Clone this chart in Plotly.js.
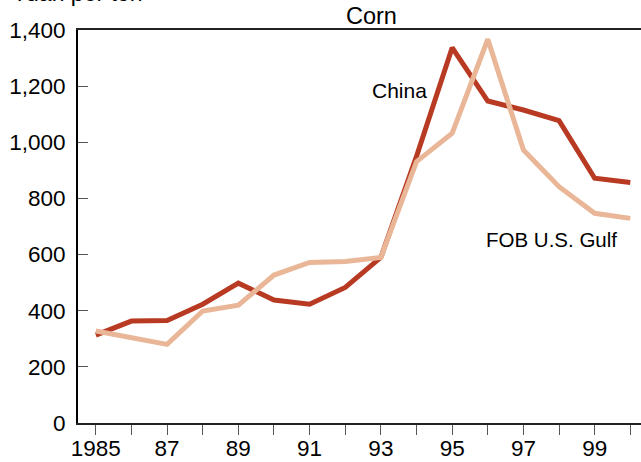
<!DOCTYPE html>
<html>
<head>
<meta charset="utf-8">
<script src="https://cdn.plot.ly/plotly-3.0.1.min.js"></script>
<style>html,body{margin:0;padding:0;background:#fff;}#chart{width:641px;height:462px;}</style>
</head>
<body>
<div id="chart"></div>
<script>
const years = [1985,1986,1987,1988,1989,1990,1991,1992,1993,1994,1995,1996,1997,1998,1999,2000];
const china = [313,363,365,423,498,438,423,483,590,950,1337,1147,1115,1077,872,857];
const fobGulf = [328,305,280,399,420,527,572,575,590,931,1032,1367,973,842,747,729];
const xTickVals = [1985,1987,1989,1991,1993,1995,1997,1999];
const xTickText = ['1985','87','89','91','93','95','97','99'];
const yTickVals = [0,200,400,600,800,1000,1200,1400];
const yTickText = ['0','200','400','600','800','1,000','1,200','1,400'];

const fam = 'Liberation Sans, Arial, sans-serif';
const tickFont = {family: fam, size: 22.5, color: '#000'};

const traces = [
  {x: years, y: china, mode: 'lines', name: 'China', line: {color: '#b83a22', width: 5}},
  {x: years, y: fobGulf, mode: 'lines', name: 'FOB U.S. Gulf', line: {color: '#e9b797', width: 5}}
];

const layout = {
  width: 641, height: 462,
  margin: {l: 78, r: 0, t: 30, b: 39},
  paper_bgcolor: '#fff', plot_bgcolor: '#fff',
  showlegend: false,
  font: {family: fam, size: 21, color: '#000'},
  title: {text: 'Corn', font: {family: fam, size: 23.5, color: '#000'}, xref: 'container', x: 0.5795, xanchor: 'center', y: 0.965, yanchor: 'middle'},
  xaxis: {
    range: [1984.5, 2000.3], showgrid: false, zeroline: false,
    showline: true, linecolor: '#222', linewidth: 2, mirror: true,
    ticks: 'outside', ticklen: 10, tickwidth: 1, tickcolor: '#555',
    tickmode: 'array', tickvals: years,
    ticktext: years.map(y => { const i = xTickVals.indexOf(y); return i >= 0 ? xTickText[i] : ''; }),
    ticklabelstandoff: -6,
    tickfont: tickFont
  },
  yaxis: {
    range: [0, 1400], showgrid: false, zeroline: false,
    showline: true, linecolor: '#000', linewidth: 2,
    ticks: 'inside', ticklen: 10, tickwidth: 1, tickcolor: '#555',
    tickmode: 'array', tickvals: yTickVals, ticktext: yTickText,
    ticklabelstandoff: 6,
    tickfont: tickFont
  },
  annotations: [
    {xref: 'paper', yref: 'paper', x: -0.121, y: 1, xanchor: 'left', yanchor: 'bottom', yshift: 22,
     text: 'Yuan per ton', showarrow: false, font: {family: fam, size: 23, color: '#000'}},
    {xref: 'x', yref: 'y', x: 1993.53, y: 1183, xanchor: 'center', yanchor: 'middle',
     text: 'China', showarrow: false, font: {family: fam, size: 21, color: '#000'}},
    {xref: 'x', yref: 'y', x: 1997.78, y: 654, xanchor: 'center', yanchor: 'middle',
     text: 'FOB U.S. Gulf', showarrow: false, font: {family: fam, size: 20.5, color: '#000'}}
  ]
};

Plotly.newPlot('chart', traces, layout, {staticPlot: true, displayModeBar: false});
</script>
</body>
</html>
